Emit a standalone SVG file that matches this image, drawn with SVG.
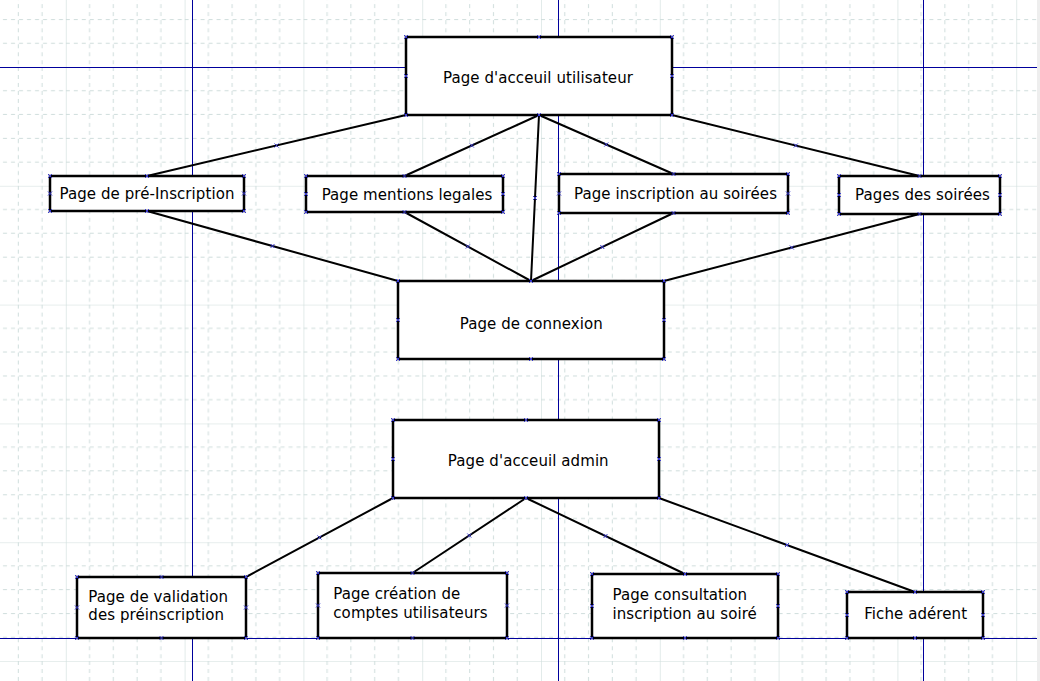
<svg xmlns="http://www.w3.org/2000/svg" xmlns:xlink="http://www.w3.org/1999/xlink" width="1040" height="681" viewBox="0 0 1040 681">
<style>
.box{fill:#fff;stroke:#000;stroke-width:2.5}
.lbl{font-family:"DejaVu Sans","Liberation Sans",sans-serif;font-size:15px;fill:#000;letter-spacing:0.08px}
.mid{text-anchor:middle}
.conn line{stroke:#000;stroke-width:2;stroke-linecap:round}
.guide{stroke:#00009c;stroke-width:1;shape-rendering:crispEdges}
.minor{stroke:#cfdddc;stroke-width:1;stroke-dasharray:4 4}
.major{stroke:#cfdddc;stroke-width:1.2}
</style>
<defs>
<pattern id="grid" patternUnits="userSpaceOnUse" x="65.8" y="67" width="118.8" height="118.8">
<line class="major" x1="0" y1="0" x2="0" y2="118.8"/>
<line class="minor" x1="23.76" y1="0" x2="23.76" y2="118.8"/>
<line class="minor" x1="47.52" y1="0" x2="47.52" y2="118.8"/>
<line class="minor" x1="71.28" y1="0" x2="71.28" y2="118.8"/>
<line class="minor" x1="95.04" y1="0" x2="95.04" y2="118.8"/>
<line class="major" x1="0" y1="0" x2="118.8" y2="0"/>
<line class="minor" x1="0" y1="23.76" x2="118.8" y2="23.76"/>
<line class="minor" x1="0" y1="47.52" x2="118.8" y2="47.52"/>
<line class="minor" x1="0" y1="71.28" x2="118.8" y2="71.28"/>
<line class="minor" x1="0" y1="95.04" x2="118.8" y2="95.04"/>
</pattern>
<path id="xm" d="M-2,-2L2,2M-2,2L2,-2" stroke="#3a3ad0" stroke-width="1" fill="none"/>
</defs>
<rect x="0" y="0" width="1040" height="681" fill="#fff"/>
<rect x="0" y="0" width="1037" height="681" fill="url(#grid)"/>
<rect x="1037" y="0" width="3" height="681" fill="#eeeeee"/>
<g id="guides">
<line class="guide" x1="192.5" y1="0" x2="192.5" y2="681"/>
<line class="guide" x1="558.5" y1="0" x2="558.5" y2="681"/>
<line class="guide" x1="923.5" y1="0" x2="923.5" y2="681"/>
<line class="guide" x1="0" y1="67.5" x2="1037" y2="67.5"/>
<line class="guide" x1="0" y1="638.5" x2="1037" y2="638.5"/>
</g>
<g id="connectors" class="conn">
<line x1="406" y1="115" x2="147" y2="176"/>
<line x1="539" y1="115" x2="404.5" y2="176"/>
<line x1="539" y1="115" x2="531" y2="281"/>
<line x1="539" y1="115" x2="673.5" y2="174"/>
<line x1="672" y1="115" x2="919.5" y2="176"/>
<line x1="147" y1="211" x2="398" y2="281"/>
<line x1="404.5" y1="212" x2="531" y2="281"/>
<line x1="673.5" y1="213" x2="531" y2="281"/>
<line x1="919.5" y1="214" x2="664" y2="281"/>
<line x1="393" y1="498" x2="246" y2="577"/>
<line x1="526" y1="498" x2="412.5" y2="573"/>
<line x1="526" y1="498" x2="685" y2="574"/>
<line x1="659" y1="498" x2="915" y2="592"/>
<use href="#xm" x="276.5" y="145.5"/><use href="#xm" x="471.8" y="145.5"/><use href="#xm" x="535" y="198"/>
<use href="#xm" x="606.3" y="144.5"/><use href="#xm" x="795.8" y="145.5"/><use href="#xm" x="272.5" y="246"/>
<use href="#xm" x="467.8" y="246.5"/><use href="#xm" x="602.3" y="247"/><use href="#xm" x="791.8" y="247.5"/>
<use href="#xm" x="319.5" y="537.5"/><use href="#xm" x="469.3" y="535.5"/><use href="#xm" x="605.5" y="536"/>
<use href="#xm" x="787" y="545"/>
</g>
<g id="n-util">
<rect class="box" x="406" y="37" width="266" height="78"/>
<text class="lbl mid" x="538" y="82.5">Page d'acceuil utilisateur</text>
<use href="#xm" x="406" y="37"/><use href="#xm" x="539" y="37"/><use href="#xm" x="672" y="37"/><use href="#xm" x="406" y="76"/><use href="#xm" x="672" y="76"/><use href="#xm" x="406" y="115"/><use href="#xm" x="539" y="115"/><use href="#xm" x="672" y="115"/>
</g>
<g id="n-preinsc">
<rect class="box" x="50" y="176" width="194" height="35"/>
<text class="lbl mid" x="147" y="198.5">Page de pré-Inscription</text>
<use href="#xm" x="50" y="176"/><use href="#xm" x="147" y="176"/><use href="#xm" x="244" y="176"/><use href="#xm" x="50" y="193.5"/><use href="#xm" x="244" y="193.5"/><use href="#xm" x="50" y="211"/><use href="#xm" x="147" y="211"/><use href="#xm" x="244" y="211"/>
</g>
<g id="n-mentions">
<rect class="box" x="306" y="176" width="197" height="36"/>
<text class="lbl mid" x="407" y="200">Page mentions legales</text>
<use href="#xm" x="306" y="176"/><use href="#xm" x="404.5" y="176"/><use href="#xm" x="503" y="176"/><use href="#xm" x="306" y="194"/><use href="#xm" x="503" y="194"/><use href="#xm" x="306" y="212"/><use href="#xm" x="404.5" y="212"/><use href="#xm" x="503" y="212"/>
</g>
<g id="n-inscsoirees">
<rect class="box" x="559" y="174" width="229" height="39"/>
<text class="lbl mid" x="675.5" y="198.5">Page inscription au soirées</text>
<use href="#xm" x="559" y="174"/><use href="#xm" x="673.5" y="174"/><use href="#xm" x="788" y="174"/><use href="#xm" x="559" y="193.5"/><use href="#xm" x="788" y="193.5"/><use href="#xm" x="559" y="213"/><use href="#xm" x="673.5" y="213"/><use href="#xm" x="788" y="213"/>
</g>
<g id="n-soirees">
<rect class="box" x="839" y="176" width="161" height="38"/>
<text class="lbl mid" x="922.5" y="200">Pages des soirées</text>
<use href="#xm" x="839" y="176"/><use href="#xm" x="919.5" y="176"/><use href="#xm" x="1000" y="176"/><use href="#xm" x="839" y="195"/><use href="#xm" x="1000" y="195"/><use href="#xm" x="839" y="214"/><use href="#xm" x="919.5" y="214"/><use href="#xm" x="1000" y="214"/>
</g>
<g id="n-connexion">
<rect class="box" x="398" y="281" width="266" height="78"/>
<text class="lbl mid" x="531.3" y="328.5">Page de connexion</text>
<use href="#xm" x="398" y="281"/><use href="#xm" x="531" y="281"/><use href="#xm" x="664" y="281"/><use href="#xm" x="398" y="320"/><use href="#xm" x="664" y="320"/><use href="#xm" x="398" y="359"/><use href="#xm" x="531" y="359"/><use href="#xm" x="664" y="359"/>
</g>
<g id="n-admin">
<rect class="box" x="393" y="420" width="266" height="78"/>
<text class="lbl mid" x="528.3" y="466">Page d'acceuil admin</text>
<use href="#xm" x="393" y="420"/><use href="#xm" x="526" y="420"/><use href="#xm" x="659" y="420"/><use href="#xm" x="393" y="459"/><use href="#xm" x="659" y="459"/><use href="#xm" x="393" y="498"/><use href="#xm" x="526" y="498"/><use href="#xm" x="659" y="498"/>
</g>
<g id="n-validation">
<rect class="box" x="77" y="577" width="169" height="61"/>
<text class="lbl" x="88.3" y="601.7">Page de validation</text>
<text class="lbl" x="88.3" y="620.3">des préinscription</text>
<use href="#xm" x="77" y="577"/><use href="#xm" x="161.5" y="577"/><use href="#xm" x="246" y="577"/><use href="#xm" x="77" y="607.5"/><use href="#xm" x="246" y="607.5"/><use href="#xm" x="77" y="638"/><use href="#xm" x="161.5" y="638"/><use href="#xm" x="246" y="638"/>
</g>
<g id="n-creation">
<rect class="box" x="318" y="573" width="189" height="65"/>
<text class="lbl" x="333.3" y="599.3">Page création de</text>
<text class="lbl" x="333.3" y="617.8">comptes utilisateurs</text>
<use href="#xm" x="318" y="573"/><use href="#xm" x="412.5" y="573"/><use href="#xm" x="507" y="573"/><use href="#xm" x="318" y="605.5"/><use href="#xm" x="507" y="605.5"/><use href="#xm" x="318" y="638"/><use href="#xm" x="412.5" y="638"/><use href="#xm" x="507" y="638"/>
</g>
<g id="n-consultation">
<rect class="box" x="592" y="574" width="186" height="64"/>
<text class="lbl" x="612.5" y="600">Page consultation</text>
<text class="lbl" x="612.5" y="618.5">inscription au soiré</text>
<use href="#xm" x="592" y="574"/><use href="#xm" x="685" y="574"/><use href="#xm" x="778" y="574"/><use href="#xm" x="592" y="606"/><use href="#xm" x="778" y="606"/><use href="#xm" x="592" y="638"/><use href="#xm" x="685" y="638"/><use href="#xm" x="778" y="638"/>
</g>
<g id="n-fiche">
<rect class="box" x="847" y="592" width="136" height="46"/>
<text class="lbl mid" x="915.7" y="619">Fiche adérent</text>
<use href="#xm" x="847" y="592"/><use href="#xm" x="915" y="592"/><use href="#xm" x="983" y="592"/><use href="#xm" x="847" y="615"/><use href="#xm" x="983" y="615"/><use href="#xm" x="847" y="638"/><use href="#xm" x="915" y="638"/><use href="#xm" x="983" y="638"/>
</g>
</svg>
